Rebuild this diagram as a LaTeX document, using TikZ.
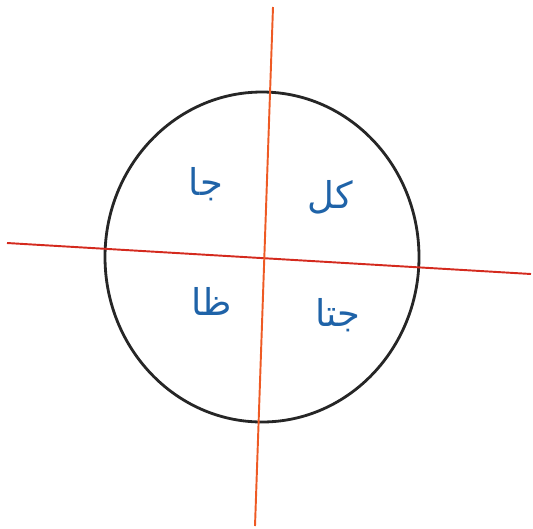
\documentclass[tikz,border=0pt]{standalone}
\usepackage{xcolor}
\usepackage{fontspec}
\usepackage{tikz}
\usetikzlibrary{positioning}
\newfontfamily\arabicfont[Script=Arabic]{DejaVu Sans}
\TeXXeTstate=1
\definecolor{axisorange}{HTML}{EE5A24}
\definecolor{axisred}{HTML}{D42A1E}
\definecolor{inkblue}{HTML}{1F63A8}

\begin{document}
\begin{tikzpicture}[x=0.02cm, y=-0.02cm,
        word/.style={text=inkblue, font=\arabicfont\fontsize{21}{24}\selectfont}]
        \useasboundingbox (0,0) rectangle (533,528);
        \coordinate (o) at (262,257);
        \coordinate (top) at (273,7);
        \coordinate (bottom) at (255,526);
        \coordinate (left) at (7,243);
        \coordinate (right) at (531,274);

        \draw[line width=1.6pt, black!85] (o) ellipse [x radius=157, y radius=165];
        \draw[line width=1.1pt, axisred] (left) -- (right);
        \draw[line width=1.1pt, axisorange] (top) -- (bottom);

        \node[word] (sin) at (206,184) {\beginR جا\endR};
        \node[word] (all) at (330,197) {\beginR كل\endR};
        \node[word] (tan) at (212,301) {\beginR ظا\endR};
        \node[word] (cos) at (338,315) {\beginR جتا\endR};
    \end{tikzpicture}
\end{document}
